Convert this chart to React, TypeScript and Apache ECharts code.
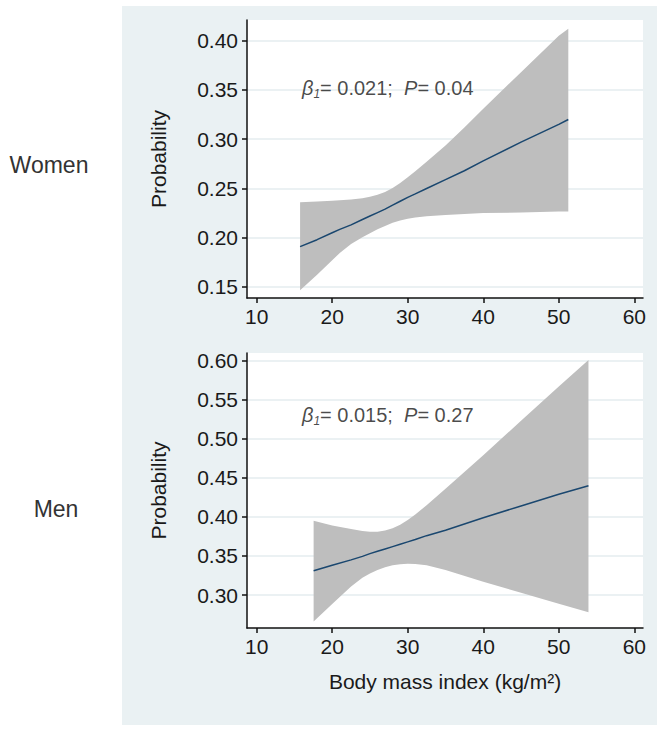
import React, { useEffect, useRef } from "react";
import * as echarts from "echarts";

const FONT = '"Liberation Sans", Arial, Helvetica, sans-serif';

// Axis ticks
const xTicks = [10, 20, 30, 40, 50, 60];
const womenYTicks = [0.15, 0.2, 0.25, 0.3, 0.35, 0.4];
const menYTicks = [0.3, 0.35, 0.4, 0.45, 0.5, 0.55, 0.6];

// Women panel (BMI, fitted probability, 95% CI)
const womenX = [15.75, 18, 20, 21, 22.5, 24, 25, 26, 27, 28, 29, 30, 31, 32.5, 35, 37.5, 40, 45, 50, 51.26];
const womenFit = [0.191, 0.198, 0.205, 0.2085, 0.213, 0.2185, 0.222, 0.2255, 0.229, 0.233, 0.237, 0.241, 0.2445, 0.25, 0.259, 0.268, 0.278, 0.297, 0.315, 0.32];
const womenLower = [0.1466, 0.1625, 0.177, 0.1845, 0.1935, 0.2005, 0.2045, 0.2085, 0.212, 0.2152, 0.2175, 0.2192, 0.2205, 0.2217, 0.223, 0.224, 0.225, 0.2256, 0.2266, 0.2266];
const womenUpper = [0.236, 0.2368, 0.2375, 0.238, 0.2388, 0.24, 0.2415, 0.2435, 0.2465, 0.2505, 0.2555, 0.2615, 0.2675, 0.277, 0.2935, 0.312, 0.331, 0.368, 0.405, 0.412];

// Men panel
const menX = [17.54, 20, 22.5, 24, 25, 26, 27, 28, 29, 30, 31, 32.5, 35, 40, 45, 50, 53.93];
const menFit = [0.331, 0.338, 0.345, 0.3495, 0.353, 0.356, 0.359, 0.362, 0.365, 0.368, 0.371, 0.376, 0.383, 0.399, 0.414, 0.429, 0.44];
const menLower = [0.266, 0.2885, 0.311, 0.322, 0.3275, 0.332, 0.3355, 0.338, 0.3395, 0.34, 0.3398, 0.338, 0.332, 0.317, 0.303, 0.289, 0.278];
const menUpper = [0.395, 0.389, 0.3845, 0.382, 0.381, 0.381, 0.3825, 0.3855, 0.39, 0.396, 0.403, 0.415, 0.436, 0.479, 0.523, 0.567, 0.601];

const panelLabels = ["Women", "Men"];
const annotations = [
  { beta: "0.021", p: "0.04", x: 16, y: 0.352 },
  { beta: "0.015", p: "0.27", x: 16, y: 0.531 },
];

const LINE_COLOR = "#1a476f";
const BAND_COLOR = "#bebebe";
const AXIS_COLOR = "#111";
const TEXT_COLOR = "#1a1a1a";
const GRID_COLOR = "#e4ecef";

export default function App() {
  const ref = useRef<HTMLDivElement>(null);

  useEffect(() => {
    if (!ref.current) return;
    const chart = echarts.init(ref.current, undefined, { renderer: "svg" });

    const makeX = (i: number, withName: boolean) => ({
      type: "value",
      gridIndex: i,
      min: 8.72,
      max: 61.15,
      axisLine: { show: true, onZero: false, lineStyle: { color: AXIS_COLOR, width: 1.5 } },
      axisTick: { show: true, length: 5, customValues: xTicks, lineStyle: { color: AXIS_COLOR, width: 1.5 } },
      axisLabel: { customValues: xTicks, fontSize: 21, color: TEXT_COLOR, fontFamily: FONT, margin: 8 },
      splitLine: { show: false },
      name: withName ? "Body mass index (kg/m²)" : "",
      nameLocation: "middle",
      nameGap: 43,
      nameTextStyle: { fontSize: 21, color: TEXT_COLOR, fontFamily: FONT },
    });

    const makeY = (i: number, min: number, max: number, ticks: number[]) => ({
      type: "value",
      gridIndex: i,
      min,
      max,
      axisLine: { show: true, onZero: false, lineStyle: { color: AXIS_COLOR, width: 1.5 } },
      axisTick: { show: true, length: 5, customValues: ticks, lineStyle: { color: AXIS_COLOR, width: 1.5 } },
      axisLabel: {
        customValues: ticks,
        fontSize: 21,
        color: TEXT_COLOR,
        fontFamily: FONT,
        margin: 9,
        formatter: (v: number) => v.toFixed(2),
      },
      splitLine: { show: true, lineStyle: { color: GRID_COLOR, width: 1.5 } },
      name: "Probability",
      nameLocation: "middle",
      nameGap: 78,
      nameTextStyle: { fontSize: 21, color: TEXT_COLOR, fontFamily: FONT },
    });

    const panelSeries = (i: number, xs: number[], fit: number[], lo: number[], hi: number[], ann: any) => [
      {
        type: "custom",
        xAxisIndex: i,
        yAxisIndex: i,
        data: xs.map((x, k) => [x, lo[k], hi[k]]),
        encode: { x: 0, y: [1, 2] },
        silent: true,
        z: 2,
        renderItem: (params: any, api: any) => {
          if (params.dataIndex !== 0) return null;
          const upper = xs.map((x, k) => api.coord([x, hi[k]]));
          const lower = xs.map((x, k) => api.coord([x, lo[k]])).reverse();
          return {
            type: "polygon",
            shape: { points: upper.concat(lower) },
            style: { fill: BAND_COLOR, stroke: null },
          };
        },
      },
      {
        type: "line",
        xAxisIndex: i,
        yAxisIndex: i,
        data: xs.map((x, k) => [x, fit[k]]),
        symbol: "none",
        lineStyle: { color: LINE_COLOR, width: 1.5 },
        silent: true,
        z: 3,
      },
      {
        type: "scatter",
        xAxisIndex: i,
        yAxisIndex: i,
        data: [[ann.x, ann.y]],
        symbolSize: 0,
        silent: true,
        z: 4,
        label: {
          show: true,
          position: "right",
          distance: 0,
          formatter: `{b|β}{s|1}{n|= ${ann.beta};  }{b|P}{n|= ${ann.p}}`,
          rich: {
            b: { fontStyle: "italic", fontSize: 20, lineHeight: 24, fontFamily: FONT, color: TEXT_COLOR },
            s: { fontStyle: "italic", fontSize: 12, lineHeight: 12, verticalAlign: "bottom", fontFamily: FONT, color: TEXT_COLOR },
            n: { fontSize: 20, lineHeight: 24, fontFamily: FONT, color: TEXT_COLOR },
          },
        },
      },
    ];

    chart.setOption({
      animation: false,
      backgroundColor: "transparent",
      grid: [
        { left: 247, top: 20, width: 396, height: 278, show: true, backgroundColor: "#ffffff", borderWidth: 0 },
        { left: 247, top: 353, width: 396, height: 275, show: true, backgroundColor: "#ffffff", borderWidth: 0 },
      ],
      xAxis: [makeX(0, false), makeX(1, true)],
      yAxis: [makeY(0, 0.1388, 0.421, womenYTicks), makeY(1, 0.2578, 0.6098, menYTicks)],
      series: [
        ...panelSeries(0, womenX, womenFit, womenLower, womenUpper, annotations[0]),
        ...panelSeries(1, menX, menFit, menLower, menUpper, annotations[1]),
      ],
      graphic: [
        {
          type: "text",
          x: 49,
          y: 165,
          style: { text: panelLabels[0], fontSize: 23, fill: "#333", fontFamily: FONT, align: "center", verticalAlign: "middle" },
        },
        {
          type: "text",
          x: 56,
          y: 509,
          style: { text: panelLabels[1], fontSize: 23, fill: "#333", fontFamily: FONT, align: "center", verticalAlign: "middle" },
        },
      ],
    });

    return () => chart.dispose();
  }, []);

  return (
    <div style={{ position: "fixed", left: 0, top: 0, width: 664, height: 733, background: "#ffffff" }}>
      <div style={{ position: "absolute", left: 122, top: 6, width: 535, height: 719, background: "#eaf1f3" }} />
      <div ref={ref} style={{ position: "absolute", left: 0, top: 0, width: 664, height: 733 }} />
    </div>
  );
}
